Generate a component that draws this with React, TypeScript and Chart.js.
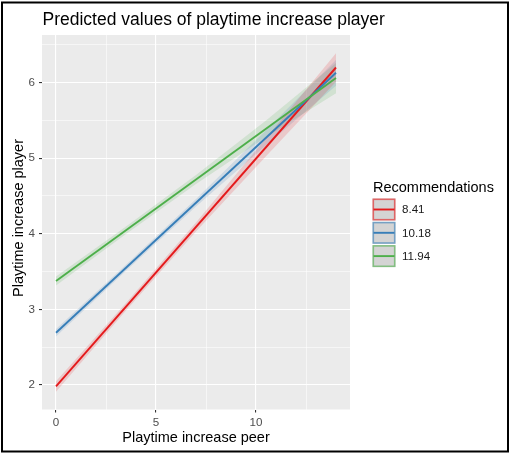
import React, { useEffect, useRef } from "react";
import { Chart, registerables } from "chart.js";

Chart.register(...registerables);

const titleText = "Predicted values of playtime increase player";
const xTitle = "Playtime increase peer";
const yTitle = "Playtime increase player";
const legendTitle = "Recommendations";

const groups = ["8.41", "10.18", "11.94"];
const colors = ["#E41A1C", "#377EB8", "#4DAF4A"];
const fills = ["rgba(228,26,28,0.16)", "rgba(55,126,184,0.16)", "rgba(77,175,74,0.16)"];
const keyBorders = ["rgba(228,26,28,0.6)", "rgba(55,126,184,0.6)", "rgba(77,175,74,0.6)"];

const lineX = [0, 14];
const redLine = [1.98, 6.2];
const blueLine = [2.69, 6.13];
const greenLine = [3.375, 6.06];

const ribbonX = [0, 3.5, 7, 10.5, 14];
const redLower = [1.91, 2.985, 4.03, 5.025, 6.01];
const redUpper = [2.05, 3.085, 4.15, 5.265, 6.39];
const blueLower = [2.64, 3.51, 4.36, 5.17, 5.96];
const blueUpper = [2.74, 3.59, 4.46, 5.37, 6.3];
const greenLower = [3.315, 3.996, 4.658, 5.279, 5.86];
const greenUpper = [3.435, 4.096, 4.778, 5.499, 6.26];

const xTicks = [0, 2.5, 5, 7.5, 10, 12.5];
const yTicks = [2, 2.5, 3, 3.5, 4, 4.5, 5, 5.5, 6, 6.5];

const FONT = "'Liberation Sans', Arial, Helvetica, sans-serif";

const pts = (xs: number[], ys: number[]) => xs.map((x, i) => ({ x, y: ys[i] }));

export default function App() {
  const ref = useRef<HTMLCanvasElement | null>(null);

  useEffect(() => {
    if (!ref.current) return;
    const lines = [
      { data: greenLine, c: 2 },
      { data: blueLine, c: 1 },
      { data: redLine, c: 0 },
    ];
    const ribbons = [
      { lo: redLower, hi: redUpper, c: 0 },
      { lo: blueLower, hi: blueUpper, c: 1 },
      { lo: greenLower, hi: greenUpper, c: 2 },
    ];
    const datasets: any[] = [];
    lines.forEach((l) => {
      datasets.push({
        data: pts(lineX, l.data),
        borderColor: colors[l.c],
        borderWidth: 1.9,
        pointRadius: 0,
        fill: false,
      });
    });
    ribbons.forEach((r) => {
      datasets.push({
        data: pts(ribbonX, r.lo),
        borderWidth: 0,
        borderColor: "rgba(0,0,0,0)",
        pointRadius: 0,
        fill: false,
      });
      datasets.push({
        data: pts(ribbonX, r.hi),
        borderWidth: 0,
        borderColor: "rgba(0,0,0,0)",
        backgroundColor: fills[r.c],
        pointRadius: 0,
        fill: "-1",
      });
    });

    const decor = {
      id: "decor",
      beforeDraw(chart: any) {
        const { ctx, chartArea: a } = chart;
        ctx.save();
        ctx.fillStyle = "#ffffff";
        ctx.fillRect(0, 0, chart.width, chart.height);
        ctx.fillStyle = "#ebebeb";
        ctx.fillRect(a.left, a.top, a.right - a.left, a.bottom - a.top);
        ctx.restore();
      },
      afterDraw(chart: any) {
        const { ctx, chartArea: a } = chart;
        ctx.save();
        // title
        ctx.fillStyle = "#000";
        ctx.font = `17.5px ${FONT}`;
        ctx.textAlign = "left";
        ctx.textBaseline = "alphabetic";
        ctx.fillText(titleText, 42.5, 24.5);
        // x title
        ctx.font = `14.5px ${FONT}`;
        ctx.textAlign = "center";
        ctx.fillText(xTitle, (a.left + a.right) / 2, 441.7);
        // y title
        ctx.save();
        ctx.translate(23, 218);
        ctx.rotate(-Math.PI / 2);
        ctx.fillText(yTitle, 0, 0);
        ctx.restore();
        // legend
        ctx.textAlign = "left";
        ctx.fillText(legendTitle, 373, 191.5);
        const kx = 372.5, kw = 23, kh = 22, step = 23.3, ky0 = 198.5;
        groups.forEach((g, i) => {
          const y = ky0 + i * step;
          ctx.fillStyle = "#d4d4d4";
          ctx.fillRect(kx, y, kw, kh);
          ctx.strokeStyle = keyBorders[i];
          ctx.lineWidth = 1.6;
          ctx.strokeRect(kx + 0.8, y + 0.8, kw - 1.6, kh - 1.6);
          ctx.strokeStyle = colors[i];
          ctx.lineWidth = 1.9;
          ctx.beginPath();
          ctx.moveTo(kx + 1, y + kh / 2);
          ctx.lineTo(kx + kw - 1, y + kh / 2);
          ctx.stroke();
          ctx.fillStyle = "#1a1a1a";
          ctx.font = `11.6px ${FONT}`;
          ctx.textBaseline = "middle";
          ctx.fillText(g, 402, y + kh / 2 + 0.5);
          ctx.textBaseline = "alphabetic";
        });
        // frame
        ctx.strokeStyle = "#000";
        ctx.lineWidth = 2;
        ctx.strokeRect(2, 2.5, 506, 449);
        ctx.restore();
      },
    };

    const isMajorX = (v: number) => v % 5 === 0;
    const isMajorY = (v: number) => v % 1 === 0;

    const chart = new Chart(ref.current, {
      type: "line",
      data: { datasets },
      options: {
        animation: false,
        responsive: false,
        devicePixelRatio: 1,
        layout: { padding: { left: 0, right: 161, top: 35, bottom: 0 } },
        plugins: { legend: { display: false }, tooltip: { enabled: false }, title: { display: false } },
        scales: {
          x: {
            type: "linear",
            min: -0.7,
            max: 14.7,
            afterBuildTicks: (s: any) => {
              s.ticks = xTicks.map((v) => ({ value: v }));
            },
            afterFit: (s: any) => {
              s.height = 43.5;
            },
            border: { display: false },
            grid: {
              color: "#ffffff",
              lineWidth: (c: any) => (isMajorX(c.tick.value) ? 1.1 : 0.55),
              tickColor: (c: any) => (isMajorX(c.tick.value) ? "#333333" : "rgba(0,0,0,0)"),
              tickLength: 3,
              tickWidth: 1.1,
            },
            ticks: {
              autoSkip: false,
              maxRotation: 0,
              padding: 3,
              color: "#4d4d4d",
              font: { family: FONT, size: 11.6 },
              callback: (v: any) => (isMajorX(Number(v)) ? String(v) : ""),
            },
          },
          y: {
            type: "linear",
            min: 1.675,
            max: 6.63,
            afterBuildTicks: (s: any) => {
              s.ticks = yTicks.map((v) => ({ value: v }));
            },
            afterFit: (s: any) => {
              s.width = 42;
            },
            border: { display: false },
            grid: {
              color: "#ffffff",
              lineWidth: (c: any) => (isMajorY(c.tick.value) ? 1.1 : 0.55),
              tickColor: (c: any) => (isMajorY(c.tick.value) ? "#333333" : "rgba(0,0,0,0)"),
              tickLength: 3,
              tickWidth: 1.1,
            },
            ticks: {
              autoSkip: false,
              padding: 4,
              color: "#4d4d4d",
              font: { family: FONT, size: 11.6 },
              callback: (v: any) => (isMajorY(Number(v)) ? String(v) : ""),
            },
          },
        },
      },
      plugins: [decor],
    });
    return () => chart.destroy();
  }, []);

  return (
    <div style={{ position: "absolute", left: 0, top: 0, width: 511, height: 453 }}>
      <canvas ref={ref} width={511} height={453} style={{ width: 511, height: 453, display: "block" }} />
    </div>
  );
}
